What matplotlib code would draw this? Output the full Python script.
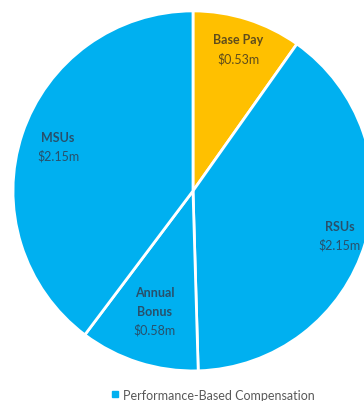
"""
Pay mix pie chart: base pay vs performance-based compensation.
"""
import numpy as np
import matplotlib.pyplot as plt
from matplotlib.lines import Line2D

names = ["Base Pay", "RSUs", "Annual\nBonus", "MSUs"]
values = [0.53, 2.15, 0.58, 2.15]
value_labels = ["$0.53m", "$2.15m", "$0.58m", "$2.15m"]
legend_label = "Performance-Based Compensation"

GOLD = "#FFC000"
BLUE = "#00B0F0"
colors = [GOLD, BLUE, BLUE, BLUE]
text_colors = ["#5e4c1c", "#28506b", "#28506b", "#28506b"]
label_dist = [0.83, 0.85, 0.70, 0.79]

plt.rcParams["font.family"] = ["Lato", "DejaVu Sans"]

fig = plt.figure(figsize=(3.64, 4.02), dpi=100)
ax = fig.add_axes([0.0357, 0.0746, 0.989, 0.896])

wedges, _ = ax.pie(values, colors=colors, startangle=90, counterclock=False,
                   radius=1, wedgeprops=dict(edgecolor="white", linewidth=2))
for w in wedges:
    w.set_clip_on(False)

# Labels: name lines (bold) over value, placed along the middle angle of each slice
line_step = 13.5  # points between lines
for w, name, val, tc, d in zip(wedges, names, value_labels, text_colors, label_dist):
    ang = np.deg2rad((w.theta1 + w.theta2) / 2)
    x, y = d * np.cos(ang), d * np.sin(ang)
    lines = name.split("\n") + [val]
    n = len(lines)
    for i, line in enumerate(lines):
        off = ((n - 1) / 2 - i) * line_step
        ax.annotate(line, (x, y), xytext=(0, off), textcoords="offset points",
                    ha="center", va="center", fontsize=9,
                    fontweight="normal" if i == n - 1 else "bold", color=tc)

ax.set_xlim(-1, 1)
ax.set_ylim(-1, 1)
ax.set_aspect("equal")
ax.axis("off")

handle = Line2D([], [], marker="s", linestyle="none", color=BLUE, markersize=4)
fig.legend([handle], [legend_label], loc="center", bbox_to_anchor=(0.585, 0.016),
           frameon=False, fontsize=9, labelcolor="#595959",
           handlelength=0.6, handletextpad=0.4)

fig.savefig("out.png", dpi=100)
